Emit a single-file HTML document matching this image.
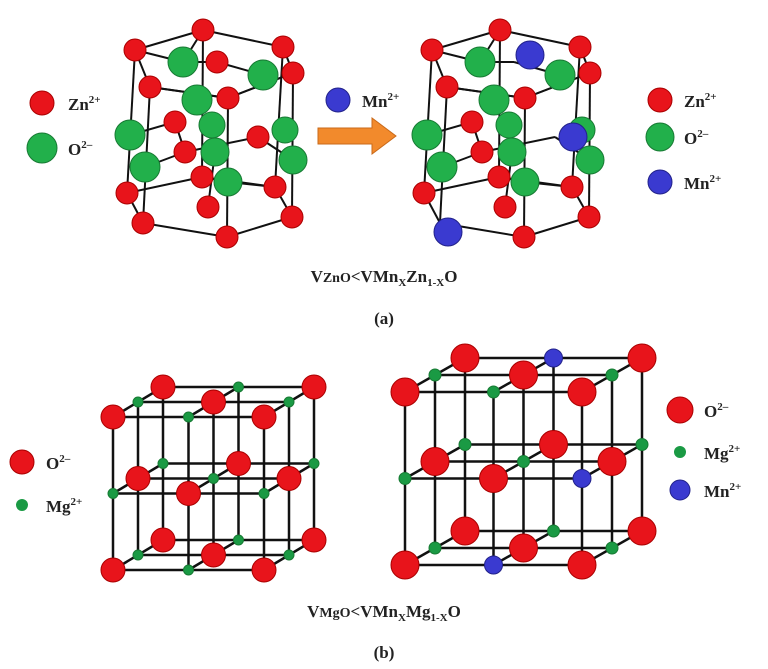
<!DOCTYPE html>
<html><head><meta charset="utf-8"><style>
body{margin:0;background:#fff;width:768px;height:669px;overflow:hidden}
svg{position:absolute;left:0;top:0}
text{font-family:"Liberation Serif",serif;font-weight:bold;fill:#222}
</style></head><body>
<svg id="s" width="768" height="669" xmlns="http://www.w3.org/2000/svg">
<g id="g"></g>
<circle cx="42" cy="103" r="12" fill="#e8141b" stroke="#a00" />
<text x="68" y="110" font-size="17">Zn<tspan font-size="11" dy="-7">2+</tspan></text>
<circle cx="42" cy="148" r="15" fill="#22b04b" stroke="#177a33"/>
<text x="68" y="155" font-size="17" font-weight="normal">O<tspan font-size="11" dy="-7">2–</tspan></text>
<circle cx="338" cy="100" r="12" fill="#3a3ad0" stroke="#22228a"/>
<text x="362" y="107" font-size="17">Mn<tspan font-size="11" dy="-7">2+</tspan></text>
<polygon points="318,128 372,128 372,118 396,136 372,154 372,144 318,144" fill="#f28a2c" stroke="#c96a1a"/>
<circle cx="660" cy="100" r="12" fill="#e8141b" stroke="#a00"/>
<text x="684" y="107" font-size="17">Zn<tspan font-size="11" dy="-7">2+</tspan></text>
<circle cx="660" cy="137" r="14" fill="#22b04b" stroke="#177a33"/>
<text x="684" y="144" font-size="17" font-weight="normal">O<tspan font-size="11" dy="-7">2–</tspan></text>
<circle cx="660" cy="182" r="12" fill="#3a3ad0" stroke="#22228a"/>
<text x="684" y="189" font-size="17">Mn<tspan font-size="11" dy="-7">2+</tspan></text>
<text x="384" y="282" font-size="17" text-anchor="middle">V<tspan font-size="14">ZnO</tspan>&lt;VMn<tspan font-size="11" dy="4">X</tspan><tspan dy="-4">Zn</tspan><tspan font-size="11" dy="4">1-X</tspan><tspan dy="-4">O</tspan></text>
<text x="384" y="324" font-size="17" text-anchor="middle">(a)</text>
<circle cx="22" cy="462" r="12" fill="#e8141b" stroke="#a00"/>
<text x="46" y="469" font-size="17" font-weight="normal">O<tspan font-size="11" dy="-7">2–</tspan></text>
<circle cx="22" cy="505" r="6" fill="#1a9a44"/>
<text x="46" y="512" font-size="17">Mg<tspan font-size="11" dy="-7">2+</tspan></text>
<circle cx="680" cy="410" r="13" fill="#e8141b" stroke="#a00"/>
<text x="704" y="417" font-size="17" font-weight="normal">O<tspan font-size="11" dy="-7">2–</tspan></text>
<circle cx="680" cy="452" r="6" fill="#1a9a44"/>
<text x="704" y="459" font-size="17">Mg<tspan font-size="11" dy="-7">2+</tspan></text>
<circle cx="680" cy="490" r="10" fill="#3a3ad0" stroke="#22228a"/>
<text x="704" y="497" font-size="17">Mn<tspan font-size="11" dy="-7">2+</tspan></text>
<text x="384" y="617" font-size="17" text-anchor="middle">V<tspan font-size="14">MgO</tspan>&lt;VMn<tspan font-size="11" dy="4">X</tspan><tspan dy="-4">Mg</tspan><tspan font-size="11" dy="4">1-X</tspan><tspan dy="-4">O</tspan></text>
<text x="384" y="658" font-size="17" text-anchor="middle">(b)</text>
</svg>
<script>
var g=document.getElementById('g'),NS='http://www.w3.org/2000/svg';
function el(t,a){var e=document.createElementNS(NS,t);for(var k in a)e.setAttribute(k,a[k]);g.appendChild(e);}
function ln(a,b,w){el('line',{x1:a[0],y1:a[1],x2:b[0],y2:b[1],stroke:'#111','stroke-width':w||2.5});}
var R='#e8141b',G='#22b04b',B='#3a3ad0';
function at(x,y,r,c){el('circle',{cx:x,cy:y,r:r,fill:c,stroke:c==R?'#a00':(c==B?'#22228a':'#177a33'),'stroke-width':1});}
var hexL=[[135,50],[203,30],[283,47],[293,73],[228,98],[150,87]];
var hexB=[[127,193],[202,177],[275,187],[292,217],[227,237],[143,223]];
var atoms=[[203,30,R,11],[135,50,R,11],[283,47,R,11],[293,73,R,11],[150,87,R,11],[228,98,R,11],[217,62,R,11],
[183,62,G,15],[263,75,G,15],[197,100,G,15],
[130,135,G,15],[175,122,R,11],[212,125,G,13],[215,152,G,14],[185,152,R,11],[145,167,G,15],[258,137,R,11],[285,130,G,13],[293,160,G,14],
[127,193,R,11],[202,177,R,11],[228,182,G,14],[275,187,R,11],[208,207,R,11],[143,223,R,11],[292,217,R,11],[227,237,R,11]];
function hex(ox,blues,bpos){
 function P(p){return [p[0]+ox,p[1]];}
 for(var i=0;i<6;i++){ln(P(hexL[i]),P(hexL[(i+1)%6]),2);ln(P(hexB[i]),P(hexB[(i+1)%6]),2);ln(P(hexL[i]),P(hexB[i]),2);}
 var ex=[[[135,50],[183,62]],[[183,62],[217,62]],[[217,62],[263,75]],[[203,30],[183,62]],[[150,87],[228,98]],[[228,98],[293,73]],
 [[130,135],[175,122]],[[175,122],[185,152]],[[185,152],[145,167]],[[185,152],[258,137]],[[258,137],[293,160]],[[212,125],[215,152]],[[215,152],[208,207]],[[202,177],[228,182]],[[228,182],[275,187]]];
 ex.forEach(function(e){ln(P(e[0]),P(e[1]),2);});
 atoms.forEach(function(a,idx){if(blues.indexOf(idx)<0)at(a[0]+ox,a[1],a[3],a[2]);});
 bpos.forEach(function(p){at(p[0],p[1],14,B);});
}
hex(0,[],[]);
hex(297,[6,16,24],[[530,55],[573,137],[448,232]]);
function cube(o,dx,dy,dz,rr,rg,blues){
 function P(i,j,k){return [o[0]+i*dx+k*dz[0],o[1]+j*dy+k*dz[1]];}
 var a,b,c;
 for(a=0;a<3;a++)for(b=0;b<3;b++){ln(P(0,a,b),P(2,a,b));ln(P(a,0,b),P(a,2,b));ln(P(a,b,0),P(a,b,2));}
 var list=[];
 for(c=2;c>=0;c--)for(b=0;b<3;b++)for(a=0;a<3;a++)list.push([a,b,c]);
 list.forEach(function(q){var p=P(q[0],q[1],q[2]);var key=q.join(',');
  if(blues.indexOf(key)>=0)at(p[0],p[1],rg+3,B);
  else if((q[0]+q[1]+q[2])%2==0)at(p[0],p[1],rr,R);else at(p[0],p[1],rg,'#1a9a44');});
}
cube([113,417],75.5,76.5,[25,-15],12,5,[]);
cube([405,392],88.5,86.5,[30,-17],14,6,['1,0,2','2,1,0','1,2,0']);
</script>
</body></html>
